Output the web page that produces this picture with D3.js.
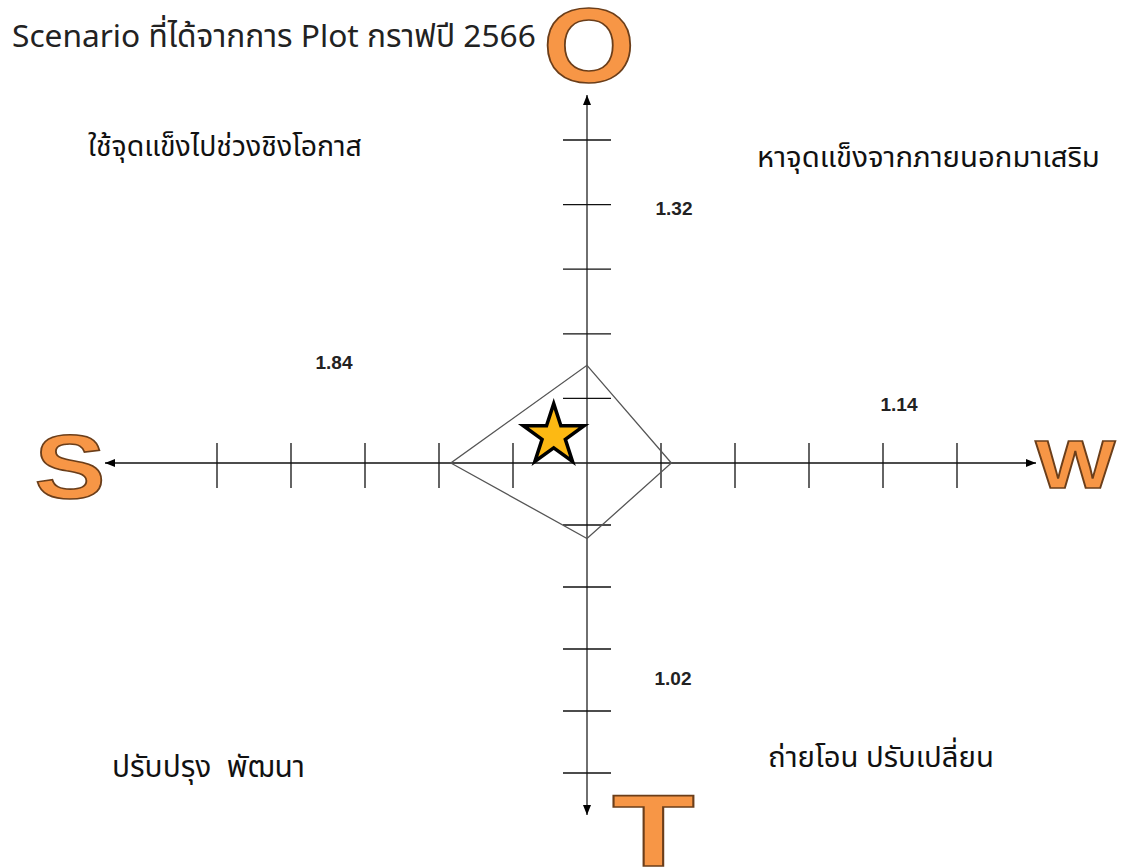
<!DOCTYPE html>
<html>
<head>
<meta charset="utf-8">
<script src="https://cdn.jsdelivr.net/npm/d3@7"></script>
<style>
  html, body { margin: 0; padding: 0; background: #ffffff; }
  svg { display: block; }
</style>
</head>
<body>
<svg id="chart" width="1132" height="868"></svg>
<script>
// ---------------- DATA ----------------
const titleText = "Scenario ที่ได้จากการ Plot กราฟปี 2566";
const axisLetters = ["O", "S", "W", "T"];
const axisValues = [1.32, 1.84, 1.14, 1.02];        // O, S, W, T
const tickUnits = [1, 2, 3, 4, 5];
const quadrantLabels = [
  "ใช้จุดแข็งไปช่วงชิงโอกาส",
  "หาจุดแข็งจากภายนอกมาเสริม",
  "ปรับปรุง  พัฒนา",
  "ถ่ายโอน ปรับเปลี่ยน"
];
const starPoint = [-0.45, 0.37];   // position of the scenario star (x: W-S direction, y: O-T direction)

// ---------------- LAYOUT ----------------
const W = 1132, H = 868;
const cx = 587, cy = 463;
const thaiFont = "'Noto Sans Thai', 'Leelawadee UI', Tahoma, 'Noto Sans', 'DejaVu Sans', sans-serif";
const svg = d3.select("#chart");

// axis scales (one unit per tick)
const xScale = d3.scaleLinear().domain([-5, 0, 5]).range([cx - 370, cx, cx + 370]);
const yScale = d3.scaleLinear().domain([-5, 0, 5]).range([cy + 310, cy, cy - 323]);
// radial scale for the plotted diamond / star
const rScale = d3.scaleLinear().domain([0, 1]).range([0, 74]);

const axisEnds = { left: 105, right: 1036, top: 95, bottom: 815 };

// arrow marker
const defs = svg.append("defs");
defs.append("marker")
  .attr("id", "arrow")
  .attr("viewBox", "0 0 10 10")
  .attr("refX", 10).attr("refY", 5)
  .attr("markerWidth", 10).attr("markerHeight", 10)
  .attr("markerUnits", "userSpaceOnUse")
  .attr("orient", "auto-start-reverse")
  .append("path").attr("d", "M0,1 L10,5 L0,9 Z").attr("fill", "#000");

// ---------------- AXES ----------------
const axisG = svg.append("g");
axisG.append("line")
  .attr("x1", axisEnds.left).attr("y1", cy)
  .attr("x2", axisEnds.right).attr("y2", cy)
  .attr("stroke", "#111").attr("stroke-width", 1.3)
  .attr("marker-start", "url(#arrow)").attr("marker-end", "url(#arrow)");
axisG.append("line")
  .attr("x1", cx).attr("y1", axisEnds.top)
  .attr("x2", cx).attr("y2", axisEnds.bottom)
  .attr("stroke", "#222").attr("stroke-width", 1.3)
  .attr("marker-start", "url(#arrow)").attr("marker-end", "url(#arrow)");

// horizontal ticks (S side negative, W side positive)
const hTicks = tickUnits.map(u => -u).concat(tickUnits);
axisG.selectAll("line.htick").data(hTicks).join("line")
  .attr("class", "htick")
  .attr("x1", d => xScale(d)).attr("x2", d => xScale(d))
  .attr("y1", cy - 20).attr("y2", cy + 25)
  .attr("stroke", "#111").attr("stroke-width", 1.3);

// vertical ticks (O side positive, T side negative)
const vTicks = tickUnits.concat(tickUnits.map(u => -u));
axisG.selectAll("line.vtick").data(vTicks).join("line")
  .attr("class", "vtick")
  .attr("x1", cx - 24).attr("x2", cx + 24)
  .attr("y1", d => yScale(d)).attr("y2", d => yScale(d))
  .attr("stroke", "#111").attr("stroke-width", 1.3);

// ---------------- DIAMOND ----------------
const [vO, vS, vW, vT] = axisValues;
const diamondPts = [
  [cx, cy - rScale(vO)],
  [cx + rScale(vW), cy],
  [cx, cy + rScale(vT)],
  [cx - rScale(vS), cy]
];
svg.append("path")
  .attr("d", d3.line()(diamondPts) + "Z")
  .attr("fill", "none").attr("stroke", "#555").attr("stroke-width", 1.3);

// ---------------- STAR ----------------
const starR = 32;
svg.append("path")
  .attr("d", d3.symbol(d3.symbolStar, (starR * starR) / 0.8908130915292852)())
  .attr("transform", `translate(${cx + rScale(starPoint[0])},${cy - rScale(starPoint[1])})`)
  .attr("fill", "#FDB913").attr("stroke", "#000").attr("stroke-width", 3.5)
  .attr("stroke-linejoin", "miter");

// ---------------- VALUE LABELS ----------------
const valuePos = [[674, 208], [334, 362], [899, 404], [673, 678]]; // O, S, W, T
svg.selectAll("text.val").data(axisValues).join("text")
  .attr("class", "val")
  .attr("x", (d, i) => valuePos[i][0]).attr("y", (d, i) => valuePos[i][1])
  .attr("text-anchor", "middle").attr("dominant-baseline", "central")
  .attr("font-family", "Arial, 'Liberation Sans', sans-serif")
  .attr("font-weight", "bold").attr("font-size", 19).attr("fill", "#222")
  .text(d => d.toFixed(2));

// ---------------- TEXT HELPERS ----------------
function fitText(sel, targetWidth) {
  const w = sel.node().getComputedTextLength();
  if (w > 0) {
    const fs = parseFloat(sel.attr("font-size"));
    sel.attr("font-size", fs * targetWidth / w);
  }
}

// title
const title = svg.append("text")
  .attr("x", 12).attr("y", 47)
  .attr("font-family", thaiFont).attr("font-size", 29).attr("fill", "#222")
  .text(titleText);
fitText(title, 524);

// quadrant labels
const quadLayout = [
  { x: 88, y: 156, w: 274 },
  { x: 757, y: 167, w: 343 },
  { x: 112, y: 777, w: 193 },
  { x: 768, y: 767, w: 226 }
];
quadrantLabels.forEach((t, i) => {
  const q = quadLayout[i];
  const s = svg.append("text")
    .attr("x", q.x).attr("y", q.y)
    .attr("font-family", thaiFont).attr("font-size", 25).attr("fill", "#111")
    .attr("xml:space", "preserve")
    .style("white-space", "pre")
    .text(t);
  fitText(s, q.w);
});

// ---------------- AXIS LETTERS (WordArt style) ----------------
const letterBoxes = {
  O: { x0: 546, y0: 6, x1: 632, y1: 82 },
  S: { x0: 37, y0: 432, x1: 103, y1: 498 },
  W: { x0: 1038, y0: 438, x1: 1113, y1: 488 },
  T: { x0: 615, y0: 793, x1: 692, y1: 866 }
};
axisLetters.forEach(letter => {
  const b = letterBoxes[letter];
  const g = svg.append("g");
  const t = g.append("text")
    .attr("x", 0).attr("y", 0)
    .attr("font-family", "'Liberation Sans', Arial, sans-serif")
    .attr("font-weight", "bold").attr("font-size", 100)
    .attr("fill", "#F79646").attr("stroke", "#6B3E1A")
    .text(letter);
  const bb = t.node().getBBox();
  const capTop = -72, capBot = 0;       // Arial cap height ~0.716em
  const adv = bb.width;
  const gw = adv * 0.93, gx = bb.x + adv * 0.035;
  const sx = (b.x1 - b.x0) / gw;
  const sy = (b.y1 - b.y0) / (capBot - capTop);
  t.attr("stroke-width", 1.6 / Math.min(sx, sy));
  g.attr("transform", `translate(${b.x0 - gx * sx},${b.y0 - capTop * sy}) scale(${sx},${sy})`);
});
</script>
</body>
</html>
